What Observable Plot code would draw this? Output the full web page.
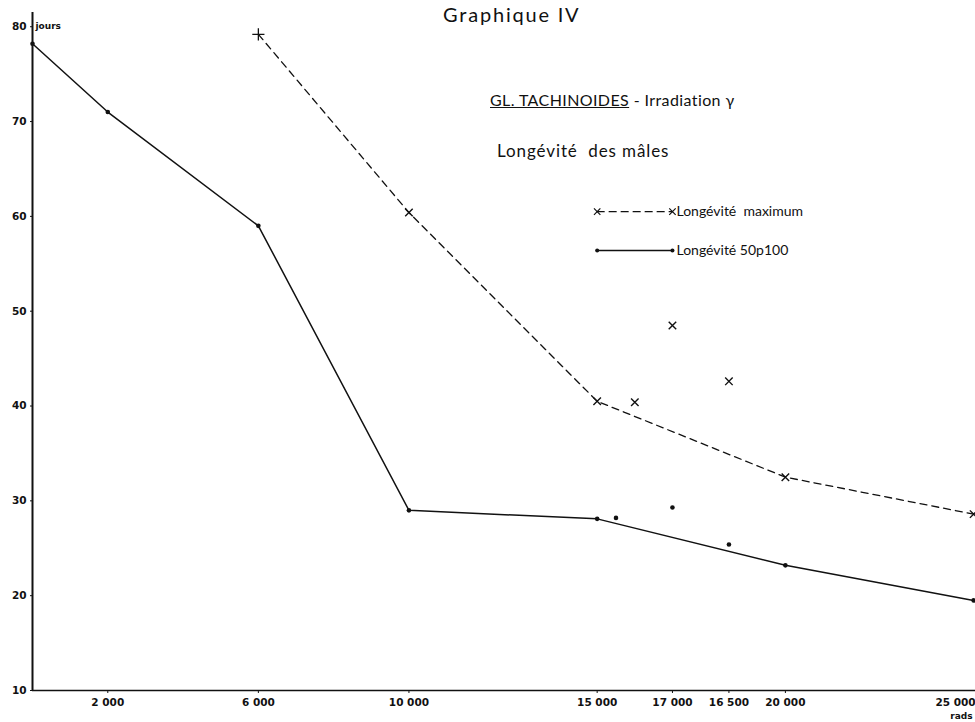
<!DOCTYPE html>
<html><head><meta charset="utf-8">
<script src="https://cdn.jsdelivr.net/npm/d3@7"></script>
<script src="https://cdn.jsdelivr.net/npm/@observablehq/plot@0.6"></script>
<style>
body{margin:0;background:#fff;}
#wrap{position:relative;width:975px;height:722px;font-family:Lato,"DejaVu Sans",sans-serif;color:#111;}
.t{position:absolute;white-space:pre;line-height:1;}
#chart{position:absolute;left:0;top:0;}
</style></head><body>
<div id="wrap">
  <div id="chart"></div>
  <div class="t" style="left:443px;top:4px;font-size:20px;letter-spacing:1.8px;">Graphique IV</div>
  <div class="t" style="left:490px;top:92px;font-size:16px;letter-spacing:0.4px;"><span style="text-decoration:underline">GL. TACHINOIDES</span> - Irradiation γ</div>
  <div class="t" style="left:497px;top:142px;font-size:17px;letter-spacing:0.9px;">Longévité  des mâles</div>
</div>
<script>
// Dose (rads) and longevity (jours)
const doseMed = [0, 2000, 6000, 10000, 15000, 20000, 25000];
const longMed = [78.2, 71.0, 59.0, 29.0, 28.1, 23.2, 19.5];
const doseMax = [6000, 10000, 15000, 20000, 25000];
const longMax = [79.2, 60.4, 40.5, 32.5, 28.6];
const extraDoseMed = [15500, 17000, 18500];
const extraMed = [28.2, 29.3, 25.4];
const extraDoseMax = [16000, 17000, 18500];
const extraMax = [40.4, 48.5, 42.6];
const xTicks = [2000, 6000, 10000, 15000, 17000, 18500, 20000, 25000];
const xTickLabels = ["2 000", "6 000", "10 000", "15 000", "17 000", "16 500", "20 000", "25 000"];
const yTicks = [10, 20, 30, 40, 50, 60, 70, 80];
const legendLabels = ["Longévité  maximum", "Longévité 50p100"];
const legendDose = [15000, 17000];
const legendLong = [60.5, 56.4];

const med = doseMed.map((x, i) => ({x, y: longMed[i]}));
const max = doseMax.map((x, i) => ({x, y: longMax[i]}));
const medExtra = extraDoseMed.map((x, i) => ({x, y: extraMed[i]}));
const maxExtra = extraDoseMax.map((x, i) => ({x, y: extraMax[i]}));
const legMax = legendDose.map(x => ({x, y: legendLong[0]}));
const legMed = legendDose.map(x => ({x, y: legendLong[1]}));
const legText = legendLabels.map((t, i) => ({x: legendDose[1], y: legendLong[i], t}));
const fmtX = d => xTickLabels[xTicks.indexOf(d)];

const chart = Plot.plot({
  width: 975,
  height: 722,
  marginLeft: 32,
  marginRight: 0,
  marginTop: 12,
  marginBottom: 32,
  style: {fontFamily: "'DejaVu Sans', sans-serif", fontSize: "10.5px", fontWeight: "bold", color: "#111", background: "white"},
  x: {domain: [0, 25050], label: null},
  y: {domain: [10, 81.5], label: null},
  marks: [
    Plot.axisY(yTicks, {tickSize: 2, tickPadding: 4, label: null}),
    Plot.axisX(xTicks.slice(0, -1), {tickFormat: fmtX, tickSize: 3, tickPadding: 5, label: null}),
    Plot.axisX(xTicks.slice(-1), {tickFormat: fmtX, tickSize: 3, tickPadding: 5, textAnchor: "end", dx: 2, label: null}),
    Plot.ruleX([0], {stroke: "#111", strokeWidth: 2}),
    Plot.ruleY([10], {stroke: "#111", strokeWidth: 1.5}),
    Plot.line(med, {x: "x", y: "y", stroke: "#111", strokeWidth: 1.5}),
    Plot.line(max, {x: "x", y: "y", stroke: "#111", strokeWidth: 1.3, strokeDasharray: "7,5"}),
    Plot.dot(med, {x: "x", y: "y", r: 2.3, fill: "#111"}),
    Plot.dot(medExtra, {x: "x", y: "y", r: 2.3, fill: "#111"}),
    Plot.dot(max.slice(0, 1), {x: "x", y: "y", symbol: "plus", r: 4, stroke: "#111", strokeWidth: 1.3}),
    Plot.dot(max.slice(1), {x: "x", y: "y", symbol: "times", r: 3.5, stroke: "#111", strokeWidth: 1.4}),
    Plot.dot(maxExtra, {x: "x", y: "y", symbol: "times", r: 3.5, stroke: "#111", strokeWidth: 1.4}),
    Plot.line(legMax, {x: "x", y: "y", stroke: "#111", strokeWidth: 1.3, strokeDasharray: "7,5"}),
    Plot.dot(legMax, {x: "x", y: "y", symbol: "times", r: 3, stroke: "#111", strokeWidth: 1.2}),
    Plot.line(legMed, {x: "x", y: "y", stroke: "#111", strokeWidth: 1.5}),
    Plot.dot(legMed, {x: "x", y: "y", r: 2, fill: "#111"}),
    Plot.text(legText, {x: "x", y: "y", text: "t", dx: 4, textAnchor: "start", fontSize: 14, fontWeight: "normal", fontFamily: "Lato, sans-serif", fill: "#111"}),
    Plot.text(["jours"], {frameAnchor: "top-left", dx: 3, dy: 10, textAnchor: "start", fontSize: 9, fill: "#111"}),
    Plot.text(["rads"], {frameAnchor: "bottom-right", dx: -3, dy: 28, textAnchor: "end", fontSize: 9, fill: "#111"})
  ]
});
document.getElementById("chart").appendChild(chart);
</script>
</body></html>
